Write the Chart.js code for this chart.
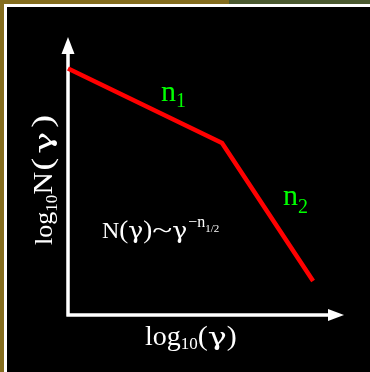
<!DOCTYPE html>
<html>
<head>
<meta charset="utf-8">
<script src="https://cdn.jsdelivr.net/npm/chart.js@4.4.1/dist/chart.umd.min.js"></script>
<style>
  html, body { margin: 0; padding: 0; background: #000; }
  #wrap { position: relative; width: 370px; height: 372px; }
</style>
</head>
<body>
<div id="wrap"><canvas id="grafica" width="370" height="372"></canvas></div>
<script>
// quiebre de la ley de potencias, en escala log-log (unidades arbitrarias)
const logGamma = [0, 5.58, 8.88];
const logN = [8.87, 6.19, 1.22];
const etiquetaX = ['log', '10', '(', 'γ', ')'];
const etiquetaY = ['log', '10', 'N', '(', 'γ', ')'];
const pendientes = ['n', '1', '2'];

const SERIF = '"Liberation Serif", "Times New Roman", serif';
const GRIEGA = '"DejaVu Serif", serif';

// escribe trozos de texto seguidos: tamaño, desplazamiento vertical y,
// si se pide, ancho fijo (estirando el trozo en horizontal)
function escribir(ctx, x, y, trozos, color) {
  ctx.fillStyle = color;
  ctx.textBaseline = 'alphabetic';
  ctx.textAlign = 'left';
  for (const t of trozos) {
    ctx.font = t.size + 'px ' + (t.font || SERIF);
    const ancho = ctx.measureText(t.t).width;
    const w = t.w || ancho;
    ctx.save();
    ctx.translate(x, y + (t.dy || 0));
    ctx.scale(w / ancho, 1);
    ctx.fillText(t.t, 0, 0);
    ctx.restore();
    x += w + (t.gap || 0);
  }
}

const marco = {
  id: 'marco',
  beforeDraw(chart) {
    const ctx = chart.ctx;
    const w = chart.width, h = chart.height;
    ctx.save();
    ctx.fillStyle = '#000';
    ctx.fillRect(0, 0, w, h);
    ctx.fillStyle = '#846d1e';
    ctx.fillRect(0, 0, w, 4);
    ctx.fillRect(0, 0, 4, h);
    ctx.fillStyle = '#4b5a30';
    ctx.fillRect(229, 0, w - 229, 4);
    ctx.fillStyle = '#fff';
    ctx.fillRect(4, 4, w - 4, 3);
    ctx.fillRect(4, 4, 3, h - 4);
    ctx.restore();
  }
};

// ejes con flecha, dibujados sobre los límites del área del gráfico
const ejes = {
  id: 'ejes',
  beforeDatasetsDraw(chart) {
    const ctx = chart.ctx;
    const a = chart.chartArea;
    const x0 = a.left, y0 = a.bottom;
    ctx.save();
    ctx.strokeStyle = '#fff';
    ctx.fillStyle = '#fff';
    ctx.lineWidth = 3.5;
    ctx.beginPath();
    ctx.moveTo(x0, y0 + 1.5);
    ctx.lineTo(x0, a.top + 14);
    ctx.moveTo(x0 - 1.5, y0);
    ctx.lineTo(a.right - 14, y0);
    ctx.stroke();
    // punta vertical
    ctx.beginPath();
    ctx.moveTo(x0, a.top);
    ctx.lineTo(x0 - 6.5, a.top + 17);
    ctx.lineTo(x0 + 6.5, a.top + 17);
    ctx.closePath();
    ctx.fill();
    // punta horizontal
    ctx.beginPath();
    ctx.moveTo(a.right, y0);
    ctx.lineTo(a.right - 16, y0 - 6);
    ctx.lineTo(a.right - 16, y0 + 6);
    ctx.closePath();
    ctx.fill();
    ctx.restore();
  },
  afterDraw(chart) {
    const ctx = chart.ctx;
    ctx.save();
    // pendientes de cada tramo
    escribir(ctx, 161, 101, [{ t: pendientes[0], size: 30 }, { t: pendientes[1], size: 20, dy: 6 }], '#00ff00');
    escribir(ctx, 283, 205, [{ t: pendientes[0], size: 30 }, { t: pendientes[2], size: 20, dy: 8 }], '#00ff00');
    // ley de potencias
    escribir(ctx, 102, 238, [
      { t: 'N', size: 24 },
      { t: '(', size: 26, w: 9 },
      { t: 'γ', size: 22, w: 15, font: GRIEGA },
      { t: ')', size: 26, w: 9 },
      { t: '~', size: 26, w: 20 },
      { t: 'γ', size: 22, w: 15, font: GRIEGA, gap: 1 },
      { t: '−n', size: 16, dy: -11, w: 17 },
      { t: '1/2', size: 11, dy: -6, w: 14 }
    ], '#fff');
    // título eje x
    escribir(ctx, 145, 345, [
      { t: etiquetaX[0], size: 28 },
      { t: etiquetaX[1], size: 17, dy: 4 },
      { t: etiquetaX[2], size: 28, w: 10 },
      { t: etiquetaX[3], size: 24, w: 19, font: GRIEGA },
      { t: etiquetaX[4], size: 28, w: 10 }
    ], '#fff');
    // título eje y, girado
    ctx.translate(52, 245);
    ctx.rotate(-Math.PI / 2);
    escribir(ctx, 0, 0, [
      { t: etiquetaY[0], size: 26 },
      { t: etiquetaY[1], size: 17, dy: 5 },
      { t: etiquetaY[2], size: 27, w: 23, gap: 1 },
      { t: etiquetaY[3], size: 29, w: 13, gap: 4 },
      { t: etiquetaY[4], size: 25, w: 22, font: GRIEGA, gap: 4 },
      { t: etiquetaY[5], size: 29, w: 13 }
    ], '#fff');
    ctx.restore();
  }
};

new Chart(document.getElementById('grafica'), {
  type: 'line',
  data: {
    datasets: [{
      data: logGamma.map((x, i) => ({ x: x, y: logN[i] })),
      borderColor: '#ff0000',
      borderWidth: 4.5,
      pointRadius: 0,
      tension: 0,
      clip: false
    }]
  },
  options: {
    responsive: false,
    animation: false,
    events: [],
    layout: { padding: { left: 68, right: 26, top: 37, bottom: 57 } },
    plugins: { legend: { display: false }, tooltip: { enabled: false } },
    scales: {
      x: { type: 'linear', min: 0, max: 10, display: false },
      y: { type: 'linear', min: 0, max: 10, display: false }
    }
  },
  plugins: [marco, ejes]
});
</script>
</body>
</html>
